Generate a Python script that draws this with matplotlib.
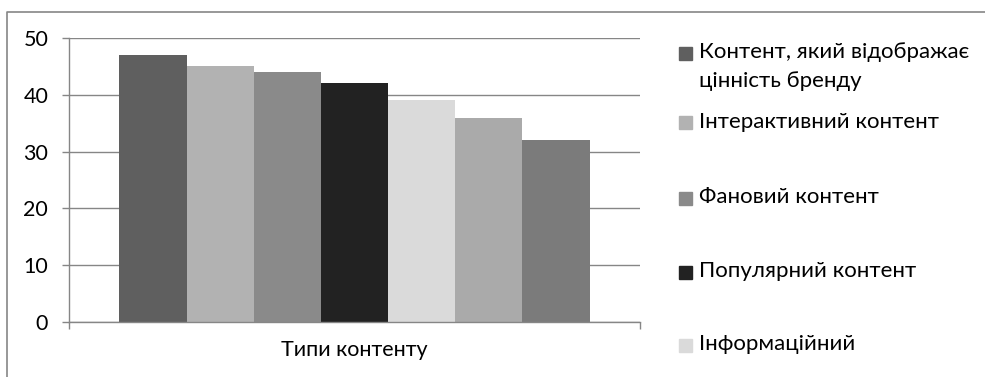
import matplotlib
matplotlib.use("Agg")
import matplotlib.pyplot as plt
from matplotlib.lines import Line2D
from matplotlib.patches import Rectangle

# --- dados ---
categoria = "Типи контенту"
valores = [47, 45, 44, 42, 39, 36, 32]
cores = ["#5f5f5f", "#b2b2b2", "#8a8a8a", "#222222", "#dadada", "#aaaaaa", "#7b7b7b"]
# so as 5 primeiras entradas da legenda aparecem (o resto esta cortado na imagem)
nomes = ["Контент, який відображає\nцінність бренду",
         "Інтерактивний контент",
         "Фановий контент",
         "Популярний контент",
         "Інформаційний"]
yticks = [0, 10, 20, 30, 40, 50]

W, H = 985, 377
FONTE = "Lato"
TAM = 15.5
TAM_LEG = 16
CINZA = "#868686"

plt.rcParams["font.family"] = [FONTE, "DejaVu Sans"]

fig = plt.figure(figsize=(W / 100, H / 100), dpi=100)
ax = fig.add_axes([69 / W, 1 - 322 / H, (640 - 69) / W, (322 - 38) / H])

# barras: gap de 150% como no Excel
n = len(valores)
larg = 1 / (n + 1.5)
for i, (v, c) in enumerate(zip(valores, cores)):
    ax.bar((i - (n - 1) / 2) * larg, v, width=larg, color=c, linewidth=0, zorder=2)

ax.set_xlim(-0.5, 0.5)
ax.set_ylim(0, 50)
ax.set_yticks(yticks)
ax.tick_params(axis="y", labelsize=TAM, length=5, width=1, color=CINZA, pad=10)
ax.set_xticks([-0.5, 0.5])
ax.set_xticklabels(["", ""])
ax.set_xticks([0], minor=True)
ax.set_xticklabels([categoria], minor=True)
ax.tick_params(axis="x", which="major", length=5, width=1, color=CINZA)
ax.tick_params(axis="x", which="minor", length=0, labelsize=TAM, pad=13)
ax.grid(True, axis="y", color=CINZA, linewidth=1, zorder=0)
ax.set_axisbelow(True)
for s in ["top", "right"]:
    ax.spines[s].set_visible(False)
for s in ["left", "bottom"]:
    ax.spines[s].set_color(CINZA)
    ax.spines[s].set_linewidth(1)

# legenda desenhada a mao (espacamento irregular do Excel)
leg_y = [53, 123, 198, 272, 345]
for nome, c, yp in zip(nomes, cores, leg_y):
    fig.add_artist(Rectangle((679 / W, 1 - (yp + 6.5) / H), 13 / W, 13 / H,
                             transform=fig.transFigure, color=c))
    fig.text(699 / W, 1 - (yp - 11) / H, nome, fontsize=TAM_LEG, va="top", ha="left",
             linespacing=1.55)

# moldura (so esquerda e topo aparecem no recorte)
fig.add_artist(Line2D([6.5 / W, 6.5 / W, 1], [0, 1 - 11.5 / H, 1 - 11.5 / H],
                      transform=fig.transFigure, color=CINZA, linewidth=1.2))

fig.savefig("out.png", dpi=100)
